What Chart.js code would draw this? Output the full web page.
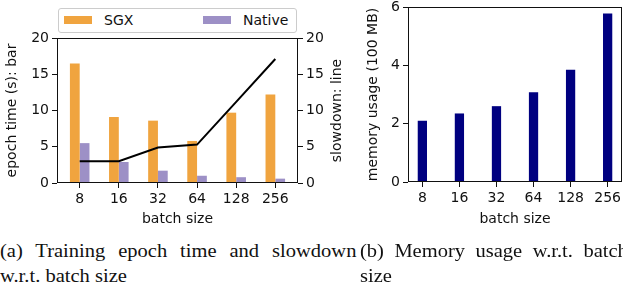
<!DOCTYPE html>
<html>
<head>
<meta charset="utf-8">
<script src="https://cdn.jsdelivr.net/npm/chart.js@4.4.1/dist/chart.umd.min.js"></script>
<style>
body{margin:0;width:623px;height:290px;overflow:hidden;background:#fff;position:relative;font-family:"DejaVu Sans",sans-serif;color:#111;}
.box{position:absolute;top:0;}
#legend{position:absolute;left:58px;top:8px;width:237px;height:23px;border:1px solid #cccccc;border-radius:3px;background:#fff;font-size:14px;}
#legend .sw{position:absolute;top:7px;width:28px;height:8px;}
#legend .lt{position:absolute;top:2px;line-height:18px;}
.cap{position:absolute;top:238px;font-family:"Liberation Serif",serif;font-size:19px;line-height:25px;color:#111;transform:scaleX(1.08);transform-origin:0 0;}
.cap .j{text-align:justify;text-align-last:justify;}
</style>
</head>
<body>
<div class="box" style="left:0;width:350px;height:232px"><canvas id="timeChart" width="350" height="232"></canvas></div>
<div class="box" style="left:345px;width:278px;height:232px"><canvas id="memChart" width="278" height="232"></canvas></div>
<div id="legend">
<span class="sw" style="left:5px;background:#f0a43f"></span><span class="lt" style="left:45px">SGX</span>
<span class="sw" style="left:144px;background:#9d90c6"></span><span class="lt" style="left:184px">Native</span>
</div>
<div class="cap" style="left:0;width:330px">
<div class="j">(a) Training epoch time and slowdown</div>
<div>w.r.t. batch size</div>
</div>
<div class="cap" style="left:360px;width:248px">
<div class="j">(b) Memory usage w.r.t. batch</div>
<div>size</div>
</div>
<script>
// values
const batchSizes = ["8", "16", "32", "64", "128", "256"];
const sgxTime = [16.5, 9.1, 8.6, 5.8, 9.7, 12.2];
const nativeTime = [5.5, 2.9, 1.7, 1.0, 0.8, 0.6];
const slowdown = [3.0, 3.0, 4.9, 5.3, 11.2, 17.1];
const memoryUsage = [2.1, 2.35, 2.6, 3.08, 3.85, 5.78];
const timeTicks = [0, 5, 10, 15, 20];
const slowTicks = [0, 5, 10, 15, 20];
const memTicks = [0, 2, 4, 6];

const sgxColor = "#f0a43f";
const nativeColor = "#9d90c6";
const memColor = "#000080";

Chart.defaults.font.family = "DejaVu Sans";
Chart.defaults.font.size = 14;
Chart.defaults.color = "#111";

const pts = arr => arr.map((v, i) => ({x: i, y: v}));
const setTicks = list => s => { s.ticks = list.map(v => ({value: v})); };

const tickGrid = {display: true, drawOnChartArea: false, drawTicks: true, tickLength: 5, tickWidth: 1, tickColor: "#111", offset: false};

const frame = {
id: "frame",
afterDatasetsDraw(chart) {
const a = chart.chartArea, c = chart.ctx;
c.save();
c.strokeStyle = "#111";
c.lineWidth = 1;
c.strokeRect(Math.round(a.left) + 0.5, Math.round(a.top) + 0.5, Math.round(a.right - a.left) - 1, Math.round(a.bottom - a.top) - 1);
c.restore();
}
};

// right axis title reads bottom to top like the left one
const rightTitle = {
id: "rightTitle",
afterDraw(chart) {
const a = chart.chartArea, c = chart.ctx;
c.save();
c.translate(337.6, (a.top + a.bottom) / 2);
c.rotate(-Math.PI / 2);
c.font = "14px 'DejaVu Sans'";
c.fillStyle = "#111";
c.textAlign = "center";
c.textBaseline = "middle";
c.fillText("slowdown: line", 0, 0);
c.restore();
}
};

function xAxis(min, max, h) {
return {
type: "linear", min: min, max: max, offset: false,
afterBuildTicks: s => { s.ticks = batchSizes.map((b, i) => ({value: i})); },
ticks: {callback: v => batchSizes[v], padding: 3, autoSkip: false, maxRotation: 0},
grid: tickGrid,
border: {display: false},
title: {display: true, text: "batch size", padding: {top: 0, bottom: 4}},
afterFit: s => { s.height = h; s.paddingLeft = 0; s.paddingRight = 0; }
};
}

new Chart(document.getElementById("timeChart"), {
type: "bar",
data: {
datasets: [
{type: "line", label: "slowdown", data: pts(slowdown), yAxisID: "y1", borderColor: "#000", borderWidth: 2, pointRadius: 0, tension: 0, order: 0},
{label: "SGX", data: pts(sgxTime), backgroundColor: sgxColor, yAxisID: "y", order: 1},
{label: "Native", data: pts(nativeTime), backgroundColor: nativeColor, yAxisID: "y", order: 1}
]
},
options: {
responsive: false,
animation: false,
categoryPercentage: 0.5,
barPercentage: 1,
layout: {padding: {top: 38, left: 0, right: 0, bottom: 0}},
plugins: {legend: {display: false}, tooltip: {enabled: false}},
scales: {
x: xAxis(-0.58, 5.58, 49),
y: {
position: "left", min: 0, max: 20,
afterBuildTicks: setTicks(timeTicks),
ticks: {padding: 3},
grid: tickGrid,
border: {display: false},
title: {display: true, text: "epoch time (s): bar", padding: {top: 4, bottom: 4}},
afterFit: s => { s.width = 57; s.paddingTop = 0; s.paddingBottom = 0; }
},
y1: {
position: "right", min: 0, max: 20,
afterBuildTicks: setTicks(slowTicks),
ticks: {padding: 3},
grid: tickGrid,
border: {display: false},
afterFit: s => { s.width = 52; s.paddingTop = 0; s.paddingBottom = 0; }
}
}
},
plugins: [frame, rightTitle]
});

new Chart(document.getElementById("memChart"), {
type: "bar",
data: {
datasets: [
{label: "memory", data: pts(memoryUsage), backgroundColor: memColor}
]
},
options: {
responsive: false,
animation: false,
categoryPercentage: 0.25,
barPercentage: 1,
layout: {padding: {top: 7, left: 0, right: 1, bottom: 0}},
plugins: {legend: {display: false}, tooltip: {enabled: false}},
scales: {
x: xAxis(-0.3875, 5.3875, 50),
y: {
position: "left", min: 0, max: 6,
afterBuildTicks: setTicks(memTicks),
ticks: {padding: 3},
grid: tickGrid,
border: {display: false},
title: {display: true, text: "memory usage (100 MB)", padding: {top: 20, bottom: 4}},
afterFit: s => { s.width = 63; s.paddingTop = 0; s.paddingBottom = 0; }
}
}
},
plugins: [frame]
});
</script>
</body>
</html>
